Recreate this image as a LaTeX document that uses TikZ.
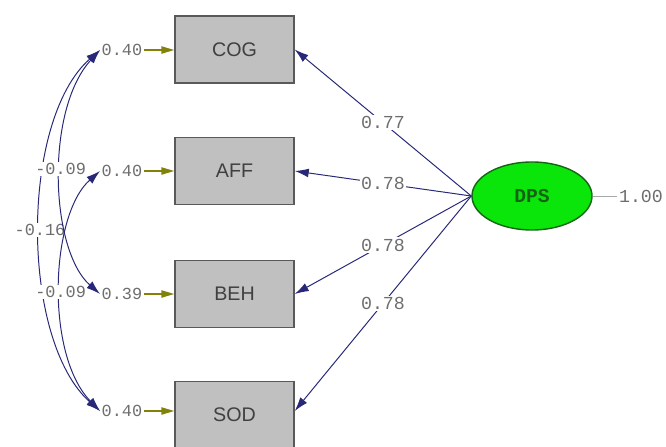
\documentclass[tikz,border=0pt]{standalone}
\usepackage{fontspec}
\newfontfamily\numfont{Liberation Mono}
\newfontfamily\varfont{Liberation Sans}
\usetikzlibrary{arrows.meta, shapes.geometric}

\definecolor{pathblue}{RGB}{40,40,120}
\definecolor{errolive}{RGB}{130,130,10}
\definecolor{boxgray}{RGB}{192,192,192}
\definecolor{latgreen}{RGB}{10,230,10}
\definecolor{latborder}{RGB}{20,100,20}
\definecolor{numgray}{RGB}{110,110,110}

\tikzset{
  obsbox/.style = {draw = black!65, line width = 1pt, fill = boxgray,
    minimum width = 2.975cm, minimum height = 1.675cm,
    font = \varfont\fontsize{14}{16}\selectfont, text = black!75},
  latent/.style = {ellipse, draw = latborder, line width = 1pt, fill = latgreen,
    minimum width = 3cm, minimum height = 1.7cm,
    font = \numfont\bfseries\fontsize{14}{16}\selectfont, text = latborder},
  num/.style = {font = \numfont\fontsize{12}{14}\selectfont, text = numgray, inner sep = 1pt},
  bignum/.style = {num, font = \numfont\fontsize{13}{15}\selectfont},
  load/.style = {draw = pathblue, line width = 0.7pt, -{Latex[length = 3.5mm, width = 2.2mm]}},
  errarrow/.style = {draw = errolive, line width = 1pt, -{Triangle[length = 3.2mm, width = 1.8mm]}},
  cov/.style = {draw = pathblue, line width = 0.7pt,
    {Latex[length = 3.5mm, width = 2.2mm]}-{Latex[length = 3.5mm, width = 2.2mm]}}
}

\begin{document}
\begin{tikzpicture}[x = 0.025cm, y = -0.025cm]
\useasboundingbox (0,0) rectangle (666,447);

% observed variables
\node[obsbox] (cog) at (234.5,49.5) {COG};
\node[obsbox] (aff) at (234.5,171) {AFF};
\node[obsbox] (beh) at (234.5,294) {BEH};
\node[obsbox] (sod) at (234.5,415) {SOD};

% latent variable
\node[latent] (dps) at (532,196) {DPS};
\node[bignum] (var) at (641,196) {1.00};
\draw[numgray!60, line width = 0.6pt] (dps.east) -- (var.west);

% error variances
\node[num] (e1) at (122,50) {0.40};
\node[num] (e2) at (122,171) {0.40};
\node[num] (e3) at (122,294) {0.39};
\node[num] (e4) at (122,411) {0.40};
\draw[errarrow] (e1.east) -- (e1.east -| cog.west);
\draw[errarrow] (e2.east) -- (e2.east -| aff.west);
\draw[errarrow] (e3.east) -- (e3.east -| beh.west);
\draw[errarrow] (e4.east) -- (e4.east -| sod.west);

% loadings
\draw[load] (dps.west) -- (cog.east) node[midway, bignum, fill = white] {0.77};
\draw[load] (dps.west) -- (aff.east) node[midway, bignum, fill = white] {0.78};
\draw[load] (dps.west) -- (beh.east) node[midway, bignum, fill = white] {0.78};
\draw[load] (dps.west) -- (e4.east -| sod.east) node[midway, bignum, fill = white] {0.78};

% error covariances
\draw[cov] (e1.west) .. controls (20,120) and (20,340) .. (e4.west) node[pos = 0.5, num, fill = white] {-0.16};
\draw[cov] (e1.west) .. controls (45,110) and (50,250) .. (e3.west) node[pos = 0.47, num, fill = white] {-0.09};
\draw[cov] (e2.west) .. controls (50,215) and (45,355) .. (e4.west) node[pos = 0.52, num, fill = white] {-0.09};
\end{tikzpicture}
\end{document}
